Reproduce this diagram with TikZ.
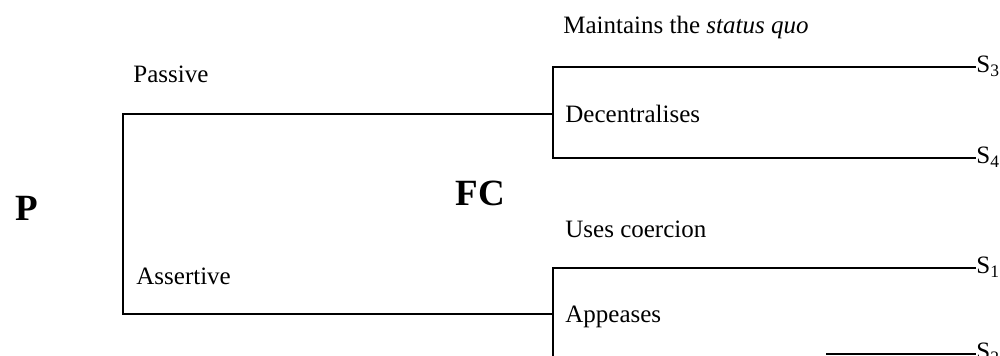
\documentclass[tikz,border=0pt]{standalone}
\usepackage{fontspec}
\setmainfont{Liberation Serif}
\begin{document}
\begin{tikzpicture}[x=0.5pt,y=-0.5pt,
  wire/.style={line width=0.9pt, line join=miter},
  lbl/.style={anchor=base west, inner sep=0pt, font=\fontsize{12.5}{15}\selectfont},
  big/.style={anchor=base west, inner sep=0pt, font=\fontsize{18.5}{22}\selectfont\bfseries},
  outcome/.style={anchor=base west, inner sep=0pt, font=\fontsize{12.5}{15}\selectfont}]

\useasboundingbox (0,0) rectangle (1000,356);
\clip (0,0) rectangle (1000,356);

% branch points of the tree
\coordinate (root-top) at (123,114);
\coordinate (root-bot) at (123,314);
\coordinate (dec)      at (553,114);
\coordinate (app)      at (553,314);
\coordinate (dec-top)  at (553,67);
\coordinate (dec-bot)  at (553,158);
\coordinate (app-top)  at (553,268);
\coordinate (app-bot)  at (553,356);
\coordinate (s2-from)  at (826,354);

% outcomes
\node[outcome] (s3) at (976,73)  {S\textsubscript{3}};
\node[outcome] (s4) at (976,164) {S\textsubscript{4}};
\node[outcome] (s1) at (976,274) {S\textsubscript{1}};
\node[outcome] (s2) at (976,360) {S\textsubscript{2}};

% players
\node[big] (p)  at (15,221)  {P};
\node[big] (fc) at (455,206) {FC};

% moves
\node[lbl] (passive) at (133,83)  {Passive};
\node[lbl] (assert)  at (136,285) {Assertive};
\node[lbl] (maint)   at (563,34)  {Maintains the \textit{status quo}};
\node[lbl] (decent)  at (565,123) {Decentralises};
\node[lbl] (coerc)   at (565,238) {Uses coercion};
\node[lbl] (appease) at (565,323) {Appeases};

% first move of P
\draw[wire] (dec) -- (root-top) -- (root-bot) -- (app);

% reply of FC after a passive move
\draw[wire] (dec-top -| s3.base west) -- (dec-top) -- (dec-bot) -- (dec-bot -| s4.base west);

% reply of FC after an assertive move
\draw[wire] (app-top -| s1.base west) -- (app-top) -- (app-bot);
\draw[wire] (s2-from) -- (s2-from -| s2.base west);

\end{tikzpicture}
\end{document}
